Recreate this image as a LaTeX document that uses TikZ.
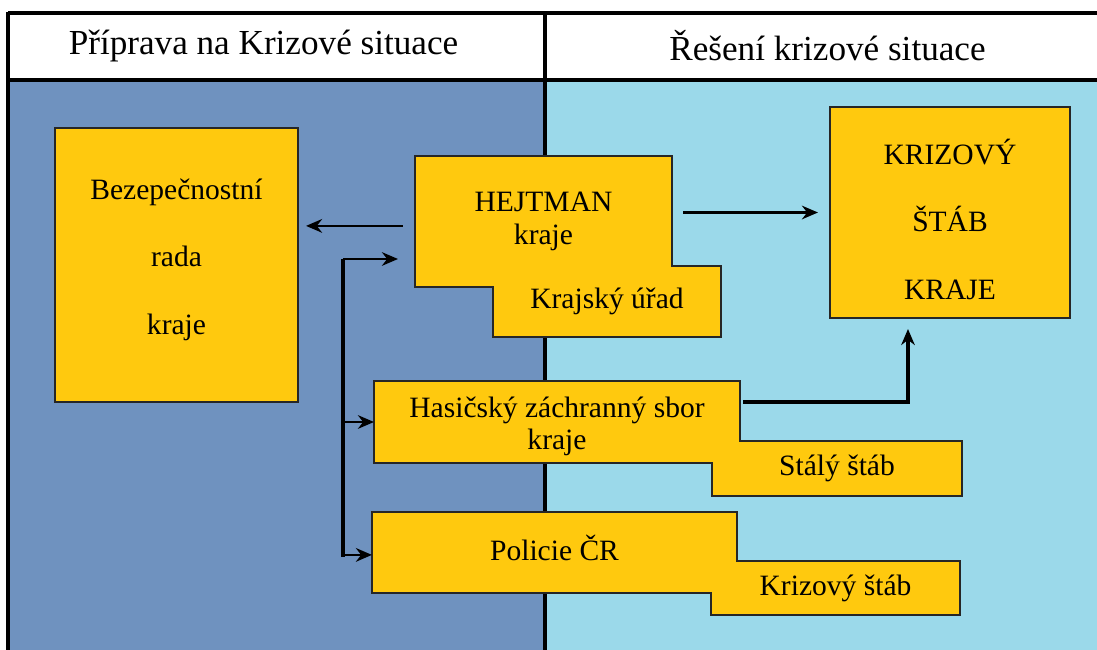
\documentclass[tikz,border=0pt]{standalone}
\usepackage{fontspec}
\setmainfont{Liberation Serif}
\usetikzlibrary{arrows.meta}
\definecolor{modra}{RGB}{111,146,191}
\definecolor{svetlemodra}{RGB}{155,217,234}
\definecolor{zluta}{RGB}{255,201,14}
\tikzset{
  blok/.style={fill=zluta, inner sep=0pt, outer sep=0pt, align=center,
    font=\fontsize{21}{25}\selectfont},
  obrys/.style={draw=black!85, line width=0.8pt},
  sipka/.style={->, line width=1.8pt},
  ram/.style={line width=2.8pt},
  hlava/.style={font=\fontsize{25}{30}\selectfont}
}
\begin{document}
\begin{tikzpicture}[x=0.025cm, y=-0.025cm, >={Stealth[length=4mm,width=3.4mm]}]
  \useasboundingbox (0,0) rectangle (1097,650);
  % pozadi a zahlavi
  \fill[modra] (8,80) rectangle (545,650);
  \fill[svetlemodra] (545,80) rectangle (1097,650);
  \draw[ram] (8,13) -- (1097,13);
  \draw[ram] (6,80) -- (1097,80);
  \draw[ram] (8,11.6) -- (8,650);
  \draw[line width=2.2pt] (545,13) -- (545,650);
  \node[hlava] (priprava) at (263.5,46) {Příprava na Krizové situace};
  \node[hlava] (reseni) at (827.5,46) {Řešení krizové situace};

  % bloky
  \node[blok, obrys, minimum width=6.075cm, minimum height=6.85cm,
    font=\fontsize{21}{48}\selectfont] (rada) at (176.5,265)
    {Bezepečnostní\\rada\\kraje\rule[-4.3mm]{0pt}{4.3mm}};
  \node[blok, obrys, minimum width=6cm, minimum height=5.275cm,
    font=\fontsize{21}{48}\selectfont] (krizovy) at (950,212.5)
    {\rule{0pt}{9.7mm}KRIZOVÝ\\ŠTÁB\\KRAJE};

  \node[blok, minimum width=6.425cm, minimum height=3.275cm,
    font=\fontsize{21}{23.5}\selectfont] (hejtman) at (543.5,221.5)
    {HEJTMAN\\kraje};
  \node[blok, minimum width=5.7cm, minimum height=1.775cm] (urad) at (607,301.5)
    {Krajský úřad};
  \draw[obrys] (hejtman.north west) -- (hejtman.north east)
    -- (hejtman.east |- urad.north) -- (urad.north east) -- (urad.south east)
    -- (urad.south west) -- (urad.west |- hejtman.south) -- (hejtman.south west) -- cycle;

  \node[blok, minimum width=9.15cm, minimum height=2.05cm,
    font=\fontsize{21}{23}\selectfont] (hasic) at (557,422)
    {\rule{0pt}{7.4mm}Hasičský záchranný sbor\\kraje};
  \node[blok, minimum width=6.25cm, minimum height=1.375cm] (staly) at (837,468.5)
    {Stálý štáb};
  \draw[obrys] (hasic.north west) -- (hasic.north east)
    -- (hasic.east |- staly.north) -- (staly.north east) -- (staly.south east)
    -- (staly.south west) -- (staly.west |- hasic.south) -- (hasic.south west) -- cycle;

  \node[blok, minimum width=9.125cm, minimum height=2.025cm] (policie) at (554.5,552.5)
    {Policie ČR\rule[-2.5mm]{0pt}{2.5mm}};
  \node[blok, minimum width=6.225cm, minimum height=1.35cm] (stab) at (835.5,588)
    {Krizový štáb};
  \draw[obrys] (policie.north west) -- (policie.north east)
    -- (policie.east |- stab.north) -- (stab.north east) -- (stab.south east)
    -- (stab.south west) -- (stab.west |- policie.south) -- (policie.south west) -- cycle;

  % sipky
  \draw[sipka, shorten <=3mm, shorten >=2mm]
    ([yshift=-1.1mm]hejtman.west) -- ([yshift=-1.1mm]hejtman.west -| rada.east);
  \draw[sipka, shorten <=2.75mm, shorten >=3mm] (krizovy.west -| hejtman.east) -- (krizovy.west);

  \coordinate (bustop) at (343,259);
  \coordinate (busbot) at (343,557);
  \draw[line width=2.8pt] (bustop) -- (busbot);
  \draw[sipka, shorten >=4.25mm] (bustop) -- (bustop -| hejtman.west);
  \draw[sipka] (bustop |- hasic.west) -- (hasic.west);
  \draw[sipka] ([yshift=-0.6mm]bustop |- policie.west) -- ([yshift=-0.6mm]policie.west);

  \draw[sipka, line width=2.8pt, shorten <=0.75mm, shorten >=2.75mm]
    ([yshift=5mm]hasic.east) -| ([xshift=-10.5mm]krizovy.south);
\end{tikzpicture}
\end{document}
